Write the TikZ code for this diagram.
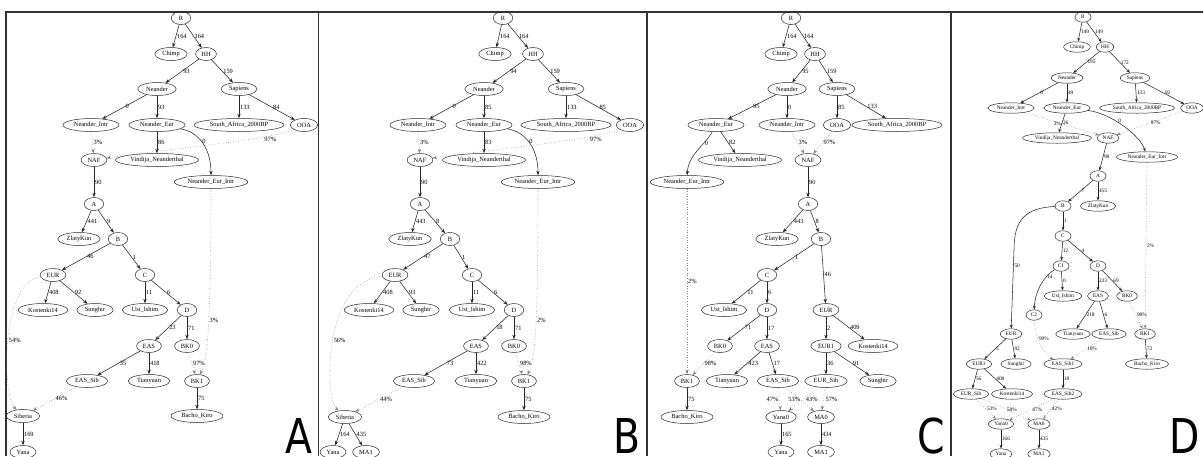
\documentclass[tikz,border=0pt]{standalone}
\usepackage{graphicx}
\usepackage{fontspec}
\setmainfont{Liberation Serif}
\newfontfamily\panelfont{DejaVu Sans}
\usetikzlibrary{shapes.geometric,arrows.meta}

\tikzset{
    pop/.style={draw=black!85, ellipse, line width=0.5pt, font=\fontsize{6.4}{7}\selectfont,
        inner xsep=2.75pt, inner ysep=0.5pt, minimum width=19.5pt, minimum height=13pt},
    popd/.style={pop, font=\fontsize{5.3}{6}\selectfont, inner xsep=2.3pt,
        minimum width=16pt, minimum height=10.5pt},
    drift/.style={draw=black!85, line width=0.55pt, -{Stealth[length=4.5pt,width=3.4pt]}},
    driftd/.style={drift, -{Stealth[length=3.8pt,width=2.9pt]}},
    admix/.style={draw=black!50, line width=0.55pt, dotted, -{Stealth[length=4.5pt,width=3.4pt,fill=black!50]}},
    admixd/.style={admix, -{Stealth[length=3.8pt,width=2.9pt,fill=black!50]}},
    elbl/.style={font=\fontsize{6.4}{7}\selectfont, inner sep=0.8pt},
    elbld/.style={elbl, font=\fontsize{5.3}{6}\selectfont},
    lbl/.style={elbl, midway, right},
    lbld/.style={elbld, midway, right},
    panel/.style={font=\panelfont\fontsize{48}{48}\selectfont, inner sep=0pt, anchor=base east}
}

\begin{document}
\begin{tikzpicture}[x=1pt,y=-1pt]
    \useasboundingbox (0,0) rectangle (1203,456);
    \clip (0,0) rectangle (1203,456);

    % frames
    \draw [black!80, line width=1.2pt] (6,456) -- (6,12) -- (1203,12);
    \foreach \x in {318.5,647,951}
        {\draw [black!80, line width=1.2pt] (\x,12) -- (\x,456);}

    % ---------------- A ----------------
    \node[pop] (aR) at (181,18) {R};
    \node[pop] (aChimp) at (171,54) {Chimp};
    \node[pop] (aHH) at (206,54) {HH};
    \node[pop] (aNeander) at (157,89) {Neander};
    \node[pop] (aSapiens) at (239,89) {Sapiens};
    \node[pop] (aNIntr) at (91,125) {Neander\_Intr};
    \node[pop] (aNEur) at (157,125) {Neander\_Eur};
    \node[pop] (aSAfr) at (239,125) {South\_Africa\_2000BP};
    \node[pop] (aOOA) at (304,125) {OOA};
    \node[pop] (aNAF) at (94,160) {NAF};
    \node[pop] (aVindija) at (157,160) {Vindija\_Neanderthal};
    \node[pop] (aNEIntr) at (211,182) {Neander\_Eur\_Intr};
    \node[pop] (aA) at (94,204) {A};
    \node[pop] (aZlaty) at (79,239) {ZlatyKun};
    \node[pop] (aB) at (118,239) {B};
    \node[pop] (aEUR) at (53,275) {EUR};
    \node[pop] (aC) at (145,275) {C};
    \node[pop] (aKost) at (43,310) {Kostenki14};
    \node[pop] (aSung) at (95,310) {Sunghir};
    \node[pop] (aUst) at (145,310) {Ust\_Ishim};
    \node[pop] (aD) at (187,310) {D};
    \node[pop] (aEAS) at (149,346) {EAS};
    \node[pop] (aBK0) at (187,346) {BK0};
    \node[pop] (aEASSib) at (87,381) {EAS\_Sib};
    \node[pop] (aTian) at (149,381) {Tianyuan};
    \node[pop] (aBK1) at (197,381) {BK1};
    \node[pop] (aSib) at (23,416) {Siberia};
    \node[pop] (aBacho) at (197,416) {Bacho\_Kiro};
    \node[pop] (aYana) at (23,452) {Yana};

    \draw[drift] (aR) -- node[lbl]{164} (aChimp);
    \draw[drift] (aR) -- node[lbl]{164} (aHH);
    \draw[drift] (aHH) -- node[lbl]{93} (aNeander);
    \draw[drift] (aHH) -- node[lbl]{159} (aSapiens);
    \draw[drift] (aNeander) -- node[lbl]{0} (aNIntr);
    \draw[drift] (aNeander) -- node[lbl]{93} (aNEur);
    \draw[drift] (aSapiens) -- node[lbl]{133} (aSAfr);
    \draw[drift] (aSapiens) -- node[lbl]{84} (aOOA);
    \draw[admix] (aNIntr) -- node[lbl]{3\%} (aNAF);
    \draw[drift] (aNEur) -- node[lbl]{86} (aVindija);
    \draw[drift] (aNEur) .. controls (200,132) and (211,150) .. node[elbl,pos=0.45,right]{0} (aNEIntr);
    \draw[admix] (aOOA) .. controls (270,140) and (160,150) .. node[elbl,pos=0.2,below]{97\%} (aNAF);
    \draw[drift] (aNAF) -- node[lbl]{90} (aA);
    \draw[drift] (aA) -- node[lbl]{441} (aZlaty);
    \draw[drift] (aA) -- node[lbl]{9} (aB);
    \draw[drift] (aB) -- node[lbl]{46} (aEUR);
    \draw[drift] (aB) -- node[lbl]{1} (aC);
    \draw[drift] (aEUR) -- node[lbl]{408} (aKost);
    \draw[drift] (aEUR) -- node[lbl]{92} (aSung);
    \draw[drift] (aC) -- node[lbl]{11} (aUst);
    \draw[drift] (aC) -- node[lbl]{6} (aD);
    \draw[drift] (aD) -- node[lbl]{23} (aEAS);
    \draw[drift] (aD) -- node[lbl]{71} (aBK0);
    \draw[drift] (aEAS) -- node[lbl]{35} (aEASSib);
    \draw[drift] (aEAS) -- node[lbl]{418} (aTian);
    \draw[admix] (aBK0) -- node[lbl]{97\%} (aBK1);
    \draw[admix] (aNEIntr) .. controls (211,330) and (207,360) .. node[elbl,pos=0.45,right]{3\%} (aBK1);
    \draw[admix] (aEUR) .. controls (0,283) and (2,395) .. node[lbl]{54\%} (aSib);
    \draw[admix] (aEASSib) -- node[lbl]{46\%} (aSib);
    \draw[drift] (aBK1) -- node[lbl]{75} (aBacho);
    \draw[drift] (aSib) -- node[lbl]{169} (aYana);

    % ---------------- B ----------------
    \node[pop] (bR) at (503,18) {R};
    \node[pop] (bChimp) at (495,54) {Chimp};
    \node[pop] (bHH) at (533,54) {HH};
    \node[pop] (bNeander) at (484,89) {Neander};
    \node[pop] (bSapiens) at (566,89) {Sapiens};
    \node[pop] (bNIntr) at (418,125) {Neander\_Intr};
    \node[pop] (bNEur) at (484,125) {Neander\_Eur};
    \node[pop] (bSAfr) at (566,125) {South\_Africa\_2000BP};
    \node[pop] (bOOA) at (630,125) {OOA};
    \node[pop] (bNAF) at (420,160) {NAF};
    \node[pop] (bVindija) at (484,160) {Vindija\_Neanderthal};
    \node[pop] (bNEIntr) at (538,182) {Neander\_Eur\_Intr};
    \node[pop] (bA) at (420,204) {A};
    \node[pop] (bZlaty) at (410,239) {ZlatyKun};
    \node[pop] (bB) at (450,239) {B};
    \node[pop] (bEUR) at (395,275) {EUR};
    \node[pop] (bC) at (472,275) {C};
    \node[pop] (bKost) at (369,310) {Kostenki14};
    \node[pop] (bSung) at (421,310) {Sunghir};
    \node[pop] (bUst) at (472,310) {Ust\_Ishim};
    \node[pop] (bD) at (514,310) {D};
    \node[pop] (bEAS) at (476,346) {EAS};
    \node[pop] (bBK0) at (514,346) {BK0};
    \node[pop] (bEASSib) at (414,381) {EAS\_Sib};
    \node[pop] (bTian) at (476,381) {Tianyuan};
    \node[pop] (bBK1) at (524,381) {BK1};
    \node[pop] (bSib) at (345,417) {Siberia};
    \node[pop] (bBacho) at (524,417) {Bacho\_Kiro};
    \node[pop] (bYana) at (333,452) {Yana};
    \node[pop] (bMA1) at (366,452) {MA1};

    \draw[drift] (bR) -- node[lbl]{164} (bChimp);
    \draw[drift] (bR) -- node[lbl]{164} (bHH);
    \draw[drift] (bHH) -- node[lbl]{94} (bNeander);
    \draw[drift] (bHH) -- node[lbl]{159} (bSapiens);
    \draw[drift] (bNeander) -- node[lbl]{0} (bNIntr);
    \draw[drift] (bNeander) -- node[lbl]{85} (bNEur);
    \draw[drift] (bSapiens) -- node[lbl]{133} (bSAfr);
    \draw[drift] (bSapiens) -- node[lbl]{85} (bOOA);
    \draw[admix] (bNIntr) -- node[lbl]{3\%} (bNAF);
    \draw[drift] (bNEur) -- node[lbl]{83} (bVindija);
    \draw[drift] (bNEur) .. controls (527,132) and (538,150) .. node[elbl,pos=0.45,right]{0} (bNEIntr);
    \draw[admix] (bOOA) .. controls (595,140) and (485,150) .. node[elbl,pos=0.2,below]{97\%} (bNAF);
    \draw[drift] (bNAF) -- node[lbl]{90} (bA);
    \draw[drift] (bA) -- node[lbl]{443} (bZlaty);
    \draw[drift] (bA) -- node[lbl]{8} (bB);
    \draw[drift] (bB) -- node[lbl]{47} (bEUR);
    \draw[drift] (bB) -- node[lbl]{1} (bC);
    \draw[drift] (bEUR) -- node[lbl]{408} (bKost);
    \draw[drift] (bEUR) -- node[lbl]{93} (bSung);
    \draw[drift] (bC) -- node[lbl]{11} (bUst);
    \draw[drift] (bC) -- node[lbl]{6} (bD);
    \draw[drift] (bD) -- node[lbl]{18} (bEAS);
    \draw[drift] (bD) -- node[lbl]{71} (bBK0);
    \draw[drift] (bEAS) -- node[lbl]{73} (bEASSib);
    \draw[drift] (bEAS) -- node[lbl]{422} (bTian);
    \draw[admix] (bBK0) -- node[lbl]{98\%} (bBK1);
    \draw[admix] (bNEIntr) .. controls (538,330) and (535,360) .. node[elbl,pos=0.45,right]{2\%} (bBK1);
    \draw[admix] (bEUR) .. controls (322,282) and (325,398) .. node[lbl]{56\%} (bSib);
    \draw[admix] (bEASSib) -- node[lbl]{44\%} (bSib);
    \draw[drift] (bBK1) -- node[lbl]{75} (bBacho);
    \draw[drift] (bSib) -- node[lbl]{164} (bYana);
    \draw[drift] (bSib) -- node[lbl]{435} (bMA1);

    % ---------------- C ----------------
    \node[pop] (cR) at (791,18) {R};
    \node[pop] (cChimp) at (781,54) {Chimp};
    \node[pop] (cHH) at (815,54) {HH};
    \node[pop] (cNeander) at (787,89) {Neander};
    \node[pop] (cSapiens) at (837,89) {Sapiens};
    \node[pop] (cNEur) at (716,125) {Neander\_Eur};
    \node[pop] (cNIntr) at (787,125) {Neander\_Intr};
    \node[pop] (cOOA) at (837,125) {OOA};
    \node[pop] (cSAfr) at (897,125) {South\_Africa\_2000BP};
    \node[pop] (cVindija) at (740,160) {Vindija\_Neanderthal};
    \node[pop] (cNAF) at (808,160) {NAF};
    \node[pop] (cNEIntr) at (687,182) {Neander\_Eur\_Intr};
    \node[pop] (cA) at (808,204) {A};
    \node[pop] (cZlaty) at (777,239) {ZlatyKun};
    \node[pop] (cB) at (821,239) {B};
    \node[pop] (cC) at (767,275) {C};
    \node[pop] (cUst) at (724,310) {Ust\_Ishim};
    \node[pop] (cD) at (767,310) {D};
    \node[pop] (cEUR) at (826,310) {EUR};
    \node[pop] (cBK0) at (720,346) {BK0};
    \node[pop] (cEAS) at (767,346) {EAS};
    \node[pop] (cEUR1) at (826,346) {EUR1};
    \node[pop] (cKost) at (873,346) {Kostenki14};
    \node[pop] (cBK1) at (687,381) {BK1};
    \node[pop] (cTian) at (727,381) {Tianyuan};
    \node[pop] (cEASSib) at (778,381) {EAS\_Sib};
    \node[pop] (cEURSib) at (826,381) {EUR\_Sib};
    \node[pop] (cSung) at (878,381) {Sunghir};
    \node[pop] (cBacho) at (687,417) {Bacho\_Kiro};
    \node[pop] (cYana0) at (781,417) {Yana0};
    \node[pop] (cMA0) at (821,417) {MA0};
    \node[pop] (cYana) at (781,452) {Yana};
    \node[pop] (cMA1) at (821,452) {MA1};

    \draw[drift] (cR) -- node[lbl]{164} (cChimp);
    \draw[drift] (cR) -- node[lbl]{164} (cHH);
    \draw[drift] (cHH) -- node[lbl]{95} (cNeander);
    \draw[drift] (cHH) -- node[lbl]{159} (cSapiens);
    \draw[drift] (cNeander) -- node[lbl]{95} (cNEur);
    \draw[drift] (cNeander) -- node[lbl]{0} (cNIntr);
    \draw[drift] (cSapiens) -- node[lbl]{85} (cOOA);
    \draw[drift] (cSapiens) -- node[lbl]{133} (cSAfr);
    \draw[drift] (cNEur) .. controls (705,145) and (688,155) .. node[elbl,pos=0.3,right]{0} (cNEIntr);
    \draw[drift] (cNEur) -- node[lbl]{82} (cVindija);
    \draw[admix] (cNIntr) -- node[lbl]{3\%} (cNAF);
    \draw[admix] (cOOA) -- node[lbl]{97\%} (cNAF);
    \draw[drift] (cNAF) -- node[lbl]{90} (cA);
    \draw[drift] (cA) -- node[lbl]{443} (cZlaty);
    \draw[drift] (cA) -- node[lbl]{8} (cB);
    \draw[drift] (cB) -- node[lbl]{1} (cC);
    \draw[drift] (cB) -- node[lbl]{46} (cEUR);
    \draw[drift] (cC) -- node[lbl]{11} (cUst);
    \draw[drift] (cC) -- node[lbl]{6} (cD);
    \draw[drift] (cD) -- node[lbl]{71} (cBK0);
    \draw[drift] (cD) -- node[lbl]{17} (cEAS);
    \draw[drift] (cEUR) -- node[lbl]{2} (cEUR1);
    \draw[drift] (cEUR) -- node[lbl]{409} (cKost);
    \draw[admix] (cBK0) -- node[lbl]{98\%} (cBK1);
    \draw[admix] (cNEIntr) -- node[lbl]{2\%} (cBK1);
    \draw[drift] (cEAS) -- node[lbl]{423} (cTian);
    \draw[drift] (cEAS) -- node[lbl]{17} (cEASSib);
    \draw[drift] (cEUR1) -- node[lbl]{36} (cEURSib);
    \draw[drift] (cEUR1) -- node[lbl]{91} (cSung);
    \draw[drift] (cBK1) -- node[lbl]{75} (cBacho);
    \draw[admix] (cEASSib) -- node[elbl,midway,left]{47\%} (cYana0);
    \draw[admix] (cEURSib) -- node[elbl,midway,left,xshift=-2pt]{53\%} (cYana0);
    \draw[admix] (cEASSib) -- node[lbl,xshift=5pt]{43\%} (cMA0);
    \draw[admix] (cEURSib) -- node[lbl,xshift=1pt]{57\%} (cMA0);
    \draw[drift] (cYana0) -- node[lbl]{165} (cYana);
    \draw[drift] (cMA0) -- node[lbl]{434} (cMA1);

    % ---------------- D ----------------
    \node[popd] (dR) at (1083,17) {R};
    \node[popd] (dChimp) at (1077,47) {Chimp};
    \node[popd] (dHH) at (1105,47) {HH};
    \node[popd] (dNeander) at (1067,78) {Neander};
    \node[popd] (dSapiens) at (1135,78) {Sapiens};
    \node[popd] (dNIntr) at (1011,108) {Neander\_Intr};
    \node[popd] (dNEur) at (1067,108) {Neander\_Eur};
    \node[popd] (dSAfr) at (1137,108) {South\_Africa\_2000BP};
    \node[popd] (dOOA) at (1192,108) {OOA};
    \node[popd] (dVindija) at (1057,138) {Vindija\_Neanderthal};
    \node[popd] (dNAF) at (1108,138) {NAF};
    \node[popd] (dNEIntr) at (1147,157) {Neander\_Eur\_Intr};
    \node[popd] (dA) at (1098,176) {A};
    \node[popd] (dB) at (1063,206) {B};
    \node[popd] (dZlaty) at (1098,206) {ZlatyKun};
    \node[popd] (dC) at (1063,236) {C};
    \node[popd] (dC1) at (1061,266) {C1};
    \node[popd] (dD) at (1098,266) {D};
    \node[popd] (dUst) at (1063,296) {Ust\_Ishim};
    \node[popd] (dEAS) at (1098,296) {EAS};
    \node[popd] (dBK0) at (1127,296) {BK0};
    \node[popd] (dC2) at (1034,315) {C2};
    \node[popd] (dEUR) at (1011,334) {EUR};
    \node[popd] (dTian) at (1073,334) {Tianyuan};
    \node[popd] (dEASSib) at (1109,334) {EAS\_Sib};
    \node[popd] (dBK1) at (1145,334) {BK1};
    \node[popd] (dEUR1) at (979,364) {EUR1};
    \node[popd] (dSung) at (1016,364) {Sunghir};
    \node[popd] (dEASSib1) at (1063,364) {EAS\_Sib1};
    \node[popd] (dBacho) at (1147,364) {Bacho\_Kiro};
    \node[popd] (dEURSib) at (971,394) {EUR\_Sib};
    \node[popd] (dKost) at (1012,394) {Kostenki14};
    \node[popd] (dEASSib2) at (1063,394) {EAS\_Sib2};
    \node[popd] (dYana0) at (1001,424) {Yana0};
    \node[popd] (dMA0) at (1039,424) {MA0};
    \node[popd] (dYana) at (1001,454) {Yana};
    \node[popd] (dMA1) at (1039,454) {MA1};

    \draw[driftd] (dR) -- node[lbld]{149} (dChimp);
    \draw[driftd] (dR) -- node[lbld]{149} (dHH);
    \draw[driftd] (dHH) -- node[lbld]{195} (dNeander);
    \draw[driftd] (dHH) -- node[lbld]{172} (dSapiens);
    \draw[driftd] (dNeander) -- node[lbld]{0} (dNIntr);
    \draw[driftd] (dNeander) -- node[lbld]{49} (dNEur);
    \draw[driftd] (dSapiens) -- node[lbld]{133} (dSAfr);
    \draw[driftd] (dSapiens) -- node[lbld]{92} (dOOA);
    \draw[admixd] (dNIntr) -- node[elbld,midway,left]{3\%} (dNAF);
    \draw[driftd] (dNEur) -- node[lbld]{26} (dVindija);
    \draw[driftd] (dNEur) .. controls (1110,113) and (1140,135) .. node[elbld,pos=0.45,above]{0} (dNEIntr);
    \draw[admixd] (dOOA) -- node[lbld]{97\%} (dNAF);
    \draw[driftd] (dNAF) -- node[lbld]{98} (dA);
    \draw[driftd] (dA) -- node[lbld]{7} (dB);
    \draw[driftd] (dA) -- node[lbld]{455} (dZlaty);
    \draw[driftd] (dB) -- node[lbld]{1} (dC);
    \draw[driftd] (dB) .. controls (1025,208) and (1014,220) .. (1014,250) -- node[elbld,pos=0.2,right]{50} (dEUR);
    \draw[driftd] (dC) -- node[lbld]{12} (dC1);
    \draw[driftd] (dC) -- node[lbld]{4} (dD);
    \draw[driftd] (dC1) .. controls (1045,275) and (1035,290) .. node[elbld,pos=0.3,right]{14} (dC2);
    \draw[driftd] (dC1) -- node[lbld]{0} (dUst);
    \draw[driftd] (dD) -- node[lbld]{233} (dEAS);
    \draw[driftd] (dD) -- node[lbld]{69} (dBK0);
    \draw[driftd] (dEAS) -- node[lbld]{218} (dTian);
    \draw[driftd] (dEAS) -- node[lbld]{6} (dEASSib);
    \draw[admixd] (dBK0) -- node[lbld]{98\%} (dBK1);
    \draw[admixd] (dNEIntr) -- node[lbld]{2\%} (dBK1);
    \draw[admixd] (dC2) .. controls (1035,340) and (1045,355) .. node[elbld,pos=0.35,right]{99\%} (dEASSib1);
    \draw[admixd] (dEASSib) -- node[lbld]{10\%} (dEASSib1);
    \draw[driftd] (dBK1) -- node[lbld]{72} (dBacho);
    \draw[driftd] (dEUR) -- node[lbld]{5} (dEUR1);
    \draw[driftd] (dEUR) -- node[lbld]{92} (dSung);
    \draw[driftd] (dEUR1) -- node[lbld]{56} (dEURSib);
    \draw[driftd] (dEUR1) -- node[lbld]{408} (dKost);
    \draw[driftd] (dEASSib1) -- node[lbld]{18} (dEASSib2);
    \draw[admixd] (dEURSib) -- node[lbld]{53\%} (dYana0);
    \draw[admixd] (dEURSib) -- node[lbld]{58\%} (dMA0);
    \draw[admixd] (dEASSib2) -- node[lbld]{47\%} (dYana0);
    \draw[admixd] (dEASSib2) -- node[lbld]{42\%} (dMA0);
    \draw[driftd] (dYana0) -- node[lbld]{166} (dYana);
    \draw[driftd] (dMA0) -- node[lbld]{435} (dMA1);

    % panel letters
    \node[panel] (labA) at (313,453) {\scalebox{0.82}[1]{A}};
    \node[panel] (labB) at (641,453) {\scalebox{0.82}[1]{B}};
    \node[panel] (labC) at (945,453) {\scalebox{0.82}[1]{C}};
    \node[panel] (labD) at (1200,453) {\scalebox{0.82}[1]{D}};
\end{tikzpicture}
\end{document}
